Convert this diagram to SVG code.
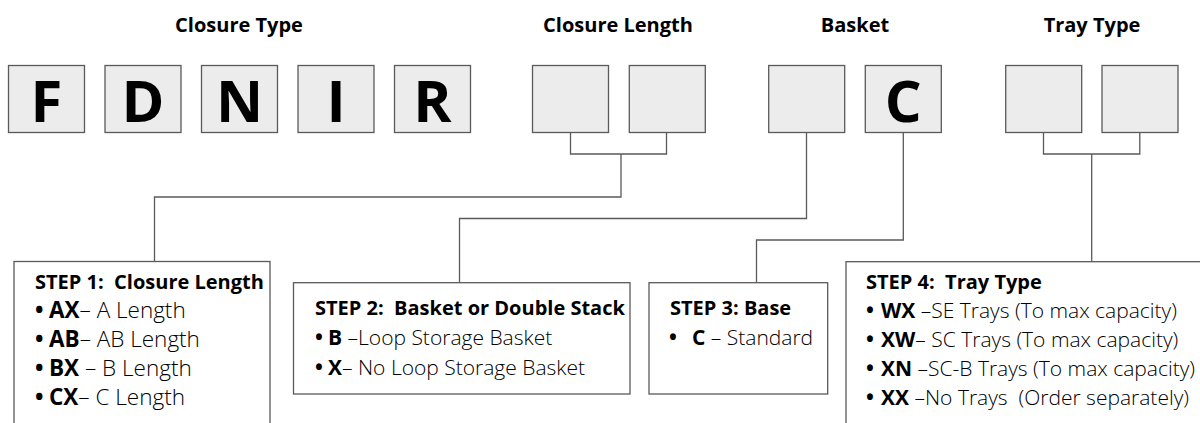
<svg xmlns="http://www.w3.org/2000/svg" width="1200" height="423" viewBox="0 0 1200 423">
<style>
text{font-family:"Open Sans","Noto Sans","Liberation Sans",sans-serif;fill:#000;white-space:pre}
.hd{font-size:20px;font-weight:bold;text-anchor:middle}
.big{font-size:58px;font-weight:bold;text-anchor:middle}
.key{fill:#ececec;stroke:#5a5a5a;stroke-width:1.3}
.step{fill:#fff;stroke:#5a5a5a;stroke-width:1.3}
.tt{font-size:20px;font-weight:bold}
.st{font-size:21px;font-weight:300}
.st1{font-size:22.5px;font-weight:300}
.b{font-weight:bold}
.bu{font-weight:bold}
.conn{fill:none;stroke:#5a5a5a;stroke-width:1.3}
</style>
<g id="headings">
<text class="hd" x="239" y="32">Closure Type</text>
<text class="hd" x="618" y="32">Closure Length</text>
<text class="hd" x="855" y="32">Basket</text>
<text class="hd" x="1092" y="32">Tray Type</text>
</g>
<g id="key-F"><rect class="key" x="8.5" y="65.5" width="76" height="67"/><text class="big" x="46.5" y="121.7">F</text></g>
<g id="key-D"><rect class="key" x="105" y="65.5" width="76" height="67"/><text class="big" x="143" y="121.7">D</text></g>
<g id="key-N"><rect class="key" x="201.5" y="65.5" width="76" height="67"/><text class="big" x="239.5" y="121.7">N</text></g>
<g id="key-I"><rect class="key" x="298" y="65.5" width="76" height="67"/><text class="big" x="336" y="121.7">I</text></g>
<g id="key-R"><rect class="key" x="394.5" y="65.5" width="76" height="67"/><text class="big" x="432.5" y="121.7">R</text></g>
<g id="key-len1"><rect class="key" x="532.5" y="65.5" width="76" height="67"/></g>
<g id="key-len2"><rect class="key" x="629.3" y="65.5" width="76" height="67"/></g>
<g id="key-basket"><rect class="key" x="768.7" y="65.5" width="76" height="67"/></g>
<g id="key-C"><rect class="key" x="865.3" y="65.5" width="76" height="67"/><text class="big" x="903.3" y="121.7">C</text></g>
<g id="key-tray1"><rect class="key" x="1005.7" y="65.5" width="76" height="67"/></g>
<g id="key-tray2"><rect class="key" x="1102" y="65.5" width="76" height="67"/></g>
<g id="connectors">
<path class="conn" d="M570.5 132.5V154H666.5V132.5M621 154V197H154.5V261.5"/>
<path class="conn" d="M806.5 132.5V218.5H459.5V282.7"/>
<path class="conn" d="M903.3 132.5V240H756.5V282.7"/>
<path class="conn" d="M1043.5 132.5V154H1139.8V132.5M1091.7 154V261.7"/>
</g>
<g id="step1">
<rect class="step" x="14" y="261.5" width="256" height="175"/>
<text class="tt" x="35" y="289">STEP 1:  Closure Length</text>
<text class="st1" x="35" y="318"><tspan class="bu">•</tspan><tspan class="b" x="49">AX</tspan>– A Length</text>
<text class="st1" x="35" y="347"><tspan class="bu">•</tspan><tspan class="b" x="49">AB</tspan>– AB Length</text>
<text class="st1" x="35" y="376"><tspan class="bu">•</tspan><tspan class="b" x="49">BX</tspan> – B Length</text>
<text class="st1" x="35" y="405"><tspan class="bu">•</tspan><tspan class="b" x="49">CX</tspan>– C Length</text>
</g>
<g id="step2">
<rect class="step" x="293.5" y="282.7" width="336.5" height="111.3"/>
<text class="tt" x="315" y="315">STEP 2:  Basket or Double Stack</text>
<text class="st" x="315" y="345"><tspan class="bu">•</tspan><tspan class="b" x="328">B</tspan> –Loop Storage Basket</text>
<text class="st" x="315" y="375"><tspan class="bu">•</tspan><tspan class="b" x="328">X</tspan>– No Loop Storage Basket</text>
</g>
<g id="step3">
<rect class="step" x="649" y="282.7" width="178.7" height="111.3"/>
<text class="tt" x="670" y="315">STEP 3: Base</text>
<text class="st" x="669" y="345"><tspan class="bu">•</tspan><tspan class="b" x="692">C</tspan> – Standard</text>
</g>
<g id="step4">
<rect class="step" x="846" y="261.7" width="370" height="175"/>
<text class="tt" x="866" y="289">STEP 4:  Tray Type</text>
<text class="st" x="866" y="318"><tspan class="bu">•</tspan><tspan class="b" x="881">WX</tspan> –SE Trays (To max capacity)</text>
<text class="st" x="866" y="347"><tspan class="bu">•</tspan><tspan class="b" x="881">XW</tspan>– SC Trays (To max capacity)</text>
<text class="st" x="866" y="376"><tspan class="bu">•</tspan><tspan class="b" x="881">XN</tspan> –SC-B Trays (To max capacity)</text>
<text class="st" x="866" y="405"><tspan class="bu">•</tspan><tspan class="b" x="881">XX</tspan> –No Trays  (Order separately)</text>
</g>
</svg>
